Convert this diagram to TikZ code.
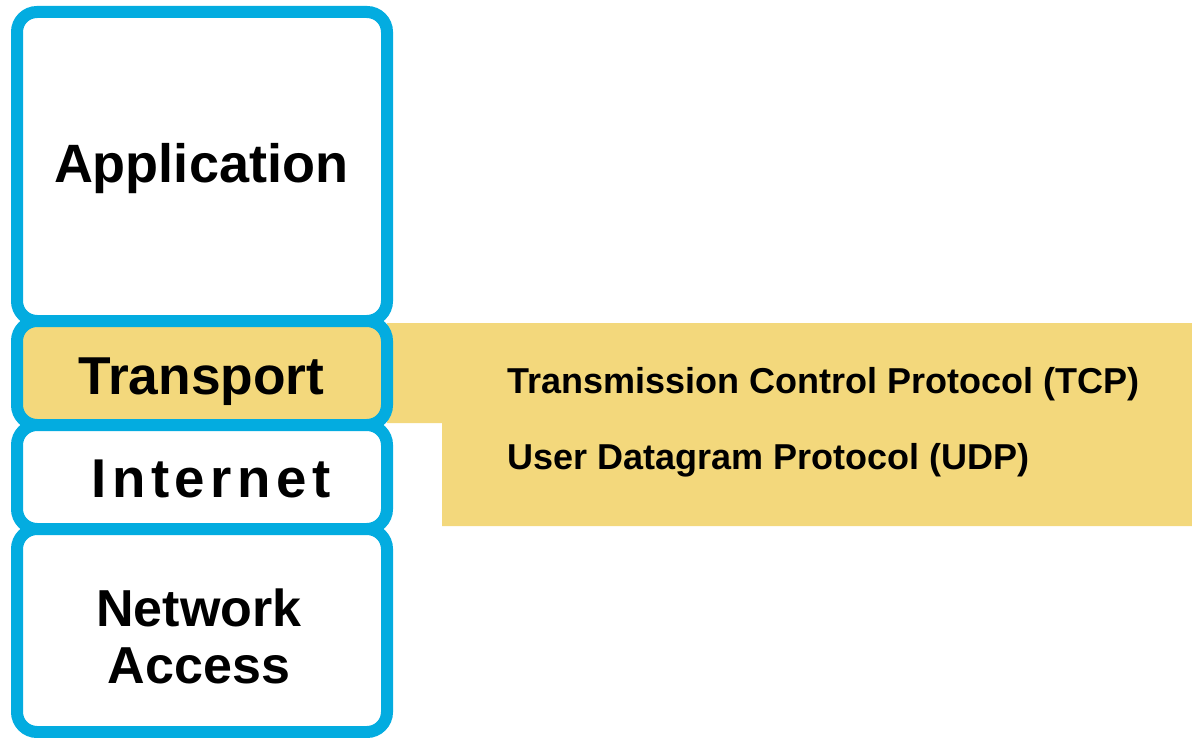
\documentclass[tikz,border=0pt]{standalone}
\usepackage{fontspec}
\setmainfont{Liberation Sans}

\definecolor{layerblue}{RGB}{3,172,224}
\definecolor{bandyellow}{RGB}{243,216,124}

\tikzset{
	layer/.style={draw=layerblue, line width=9pt, rounded corners=15pt},
	layer label/.style={anchor=base, inner sep=0pt, font=\bfseries\fontsize{39}{43}\selectfont},
	protocol label/.style={anchor=base west, inner sep=0pt, font=\bfseries\fontsize{27}{32}\selectfont}}
\tikzset{every picture/.style={line width=0.75pt}}

\begin{document}
\begin{tikzpicture}[x=0.75pt,y=0.75pt,yscale=-1,xscale=1]
	\useasboundingbox (0,0) rectangle (1192,738); %set diagram to the size of the reference

	%Shape: Polygon [band behind the transport layer]
	\fill [bandyellow] (387,323) -- (1192,323) -- (1192,526) -- (442,526) -- (442,423) -- (387,423) -- cycle ;

	%Shape: Rectangle [application]
	\draw [layer, fill=white] (17,12) rectangle (387,321) ;
	%Shape: Rectangle [transport]
	\draw [layer, fill=bandyellow] (17,321) rectangle (387,425) ;
	%Shape: Rectangle [internet]
	\draw [layer, fill=white] (17,425) rectangle (387,529) ;
	%Shape: Rectangle [network access]
	\draw [layer, fill=white] (17,529) rectangle (387,732) ;

	% Text Node
	\node [layer label, font=\bfseries\fontsize{40.5}{44}\selectfont] (application) at (201,183) {Application};
	% Text Node
	\node [layer label, font=\bfseries\fontsize{40}{44}\selectfont] (transport) at (201.5,394) {Transport};
	% Text Node
	\node [layer label, font=\bfseries\fontsize{41}{45}\selectfont\addfontfeature{LetterSpace=10}] (internet) at (211,497) {Internet};
	% Text Node
	\node [layer label, anchor=center, align=center] (netaccess) at (199,636.5) {Network\\Access};
	% Text Node
	\node [protocol label] (tcp) at (507,393) {Transmission Control Protocol (TCP)};
	% Text Node
	\node [protocol label] (udp) at (507,469) {User Datagram Protocol (UDP)};

\end{tikzpicture}
\end{document}
